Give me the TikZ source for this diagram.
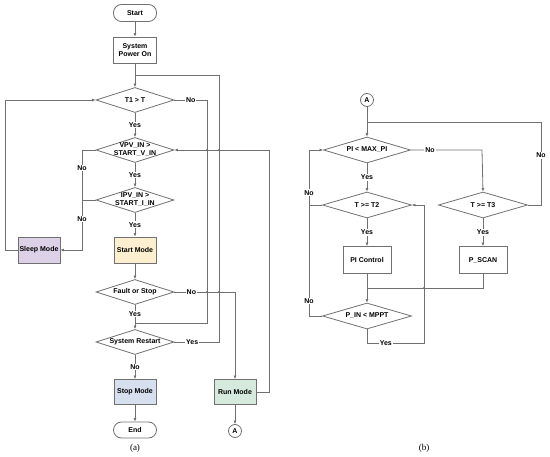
\documentclass[tikz,border=0pt]{standalone}
\usepackage{fontspec}
\setmainfont{Liberation Sans}
\newfontfamily\capfont{Liberation Serif}
\usetikzlibrary{shapes.geometric,arrows.meta}
\definecolor{linegray}{HTML}{707070}
\definecolor{sleepfill}{HTML}{DDD1E7}
\definecolor{startfill}{HTML}{FCEFD0}
\definecolor{stopfill}{HTML}{D6DFEE}
\definecolor{runfill}{HTML}{D5E9DD}
\begin{document}
\begin{tikzpicture}[x=1pt,y=-1pt,
    font=\fontsize{7}{8}\selectfont\bfseries,
    link/.style={draw=linegray, line width=0.8pt},
    flow/.style={link, -{Latex[length=3.5pt,width=3pt]}},
    process/.style={draw=linegray, line width=0.8pt, minimum width=43pt, minimum height=26pt, inner sep=1pt, align=center},
    terminal/.style={draw=linegray, line width=0.8pt, fill=white, rounded corners=8pt, minimum width=43pt, minimum height=17pt},
    decision/.style={diamond, draw=linegray, line width=0.8pt, minimum width=78pt, minimum height=25pt, inner sep=0pt},
    txt/.style={align=center, inner sep=0pt},
    connector/.style={circle, draw=linegray, line width=0.8pt, minimum size=13pt, inner sep=0pt},
    yn/.style={fill=white, inner sep=1pt},
    hop/.style={fill=linegray}]
  \useasboundingbox (0,0) rectangle (550,457);
  % (a) main column
  \node[terminal] (start) at (135,13) {Start};
  \node[process] (power) at (135,50) {System\\Power On};
  \node[decision, label={[txt]center:T1 > T}] (t1) at (135,100) {};
  \node[decision, label={[txt]center:VPV\_IN >\\START\_V\_IN}] (vpv) at (135,150) {};
  \node[decision, label={[txt]center:IPV\_IN >\\START\_I\_IN}] (ipv) at (135,200) {};
  \node[process, fill=startfill, minimum width=42pt] (startmode) at (135,250) {Start Mode};
  \node[decision, label={[txt]center:Fault or Stop}] (fault) at (135,292) {};
  \node[decision, label={[txt]center:System Restart}] (restart) at (135,342) {};
  \node[process, fill=stopfill, minimum width=42pt, minimum height=25pt] (stopmode) at (135,392) {Stop Mode};
  \node[terminal, minimum height=16pt] (end) at (135,430) {End};
  \node[process, fill=sleepfill, minimum width=42pt] (sleep) at (39,250) {Sleep Mode};
  \node[process, fill=runfill, minimum width=42pt, minimum height=25pt] (run) at (235,392) {Run Mode};
  \node[connector] (a1) at (235,431) {A};
  \coordinate (j1) at (135,75);
  \coordinate (j2) at (135,323);
  % (a) connectors
  \draw[flow] (start) -- (power);
  \draw[link] (power) -- (j1);
  \draw[flow] (j1) -- (t1.north);
  \draw[flow] (t1) -- node[yn] {Yes} (vpv);
  \draw[flow] (vpv) -- node[yn] {Yes} (ipv);
  \draw[flow] (ipv) -- node[yn] {Yes} (startmode);
  \draw[flow] (startmode) -- (fault);
  \draw[link] (fault.south) -- node[yn] {Yes} (j2);
  \draw[flow] (j2) -- (restart.north);
  \draw[flow] (restart) -- node[yn] {No} (stopmode);
  \draw[flow] (stopmode) -- (end);
  \draw[link] (t1.east) -- node[yn] {No} (207,100) |- (j2);
  \draw[link] (restart.east) -- node[yn, pos=0.4] {Yes} (219,342) |- (j1);
  \draw[flow] (fault.east) -- node[yn, pos=0.28] {No} (235,292) -- (run.north);
  \draw[flow] (run.east) -- (269,392) |- (vpv.east);
  \draw[flow] (run) -- (a1);
  \draw[flow] (vpv.west) -- (82,150) -- node[yn, pos=0.18] {No} (82,250) -- (sleep.east);
  \draw[link] (ipv.west) -- (82,200) -- node[yn, pos=0.38] {No} (82,250);
  \draw[flow] (sleep.west) -- (5,250) |- (t1.west);
  \foreach \px/\py in {207/150, 219/150, 207/292, 219/292}
    \fill[hop] (\px,\py) circle (1.1pt);
  \node[font=\capfont\fontsize{9}{10}\selectfont] (capa) at (135,448) {(a)};
  % (b) main column
  \node[connector] (a2) at (367,100) {A};
  \node[decision, minimum width=87pt, minimum height=26pt, label={[txt]center:PI < MAX\_PI}] (pi) at (367,150) {};
  \node[decision, minimum width=89pt, minimum height=26pt, label={[txt]center:T >= T2}] (t2) at (367,205) {};
  \node[process, minimum width=48pt, minimum height=27pt] (picontrol) at (367,260) {PI Control};
  \node[decision, minimum width=89pt, minimum height=26pt, label={[txt]center:P\_IN < MPPT}] (pin) at (367,316) {};
  \node[decision, minimum width=89pt, minimum height=26pt, label={[txt]center:T >= T3}] (t3) at (483,205) {};
  \node[process, minimum width=48pt, minimum height=27pt] (pscan) at (483,260) {P\_SCAN};
  \coordinate (j3) at (367,122);
  \coordinate (j4) at (367,288);
  % (b) connectors
  \draw[link] (a2) -- (j3);
  \draw[flow] (j3) -- (pi.north);
  \draw[flow] (pi) -- node[yn] {Yes} (t2);
  \draw[flow] (t2) -- node[yn] {Yes} (picontrol);
  \draw[link] (picontrol) -- (j4);
  \draw[flow] (j4) -- (pin.north);
  \draw[flow] (pi.east) -- node[yn, pos=0.27] {No} (482,150) -- (t3.north);
  \draw[flow] (t3) -- node[yn] {Yes} (pscan);
  \draw[link] (pscan) -- (483,288) -- (j4);
  \draw[link] (t3.east) -- (541,205) -- node[yn, pos=0.6] {No} (541,122) -- (j3);
  \draw[flow] (pin.south) -- (367,343) -- node[yn, pos=0.33] {Yes} (424,343) -- (424,205) -- (t2.east);
  \draw[flow] (t2.west) -- (309,205) -- node[yn, pos=0.22] {No} (309,150) -- (pi.west);
  \draw[link] (pin.west) -- (309,316) -- node[yn, pos=0.135] {No} (309,205);
  \fill[hop] (424,288) circle (1.1pt);
  \node[font=\capfont\fontsize{9}{10}\selectfont] (capb) at (424,448) {(b)};
\end{tikzpicture}
\end{document}
